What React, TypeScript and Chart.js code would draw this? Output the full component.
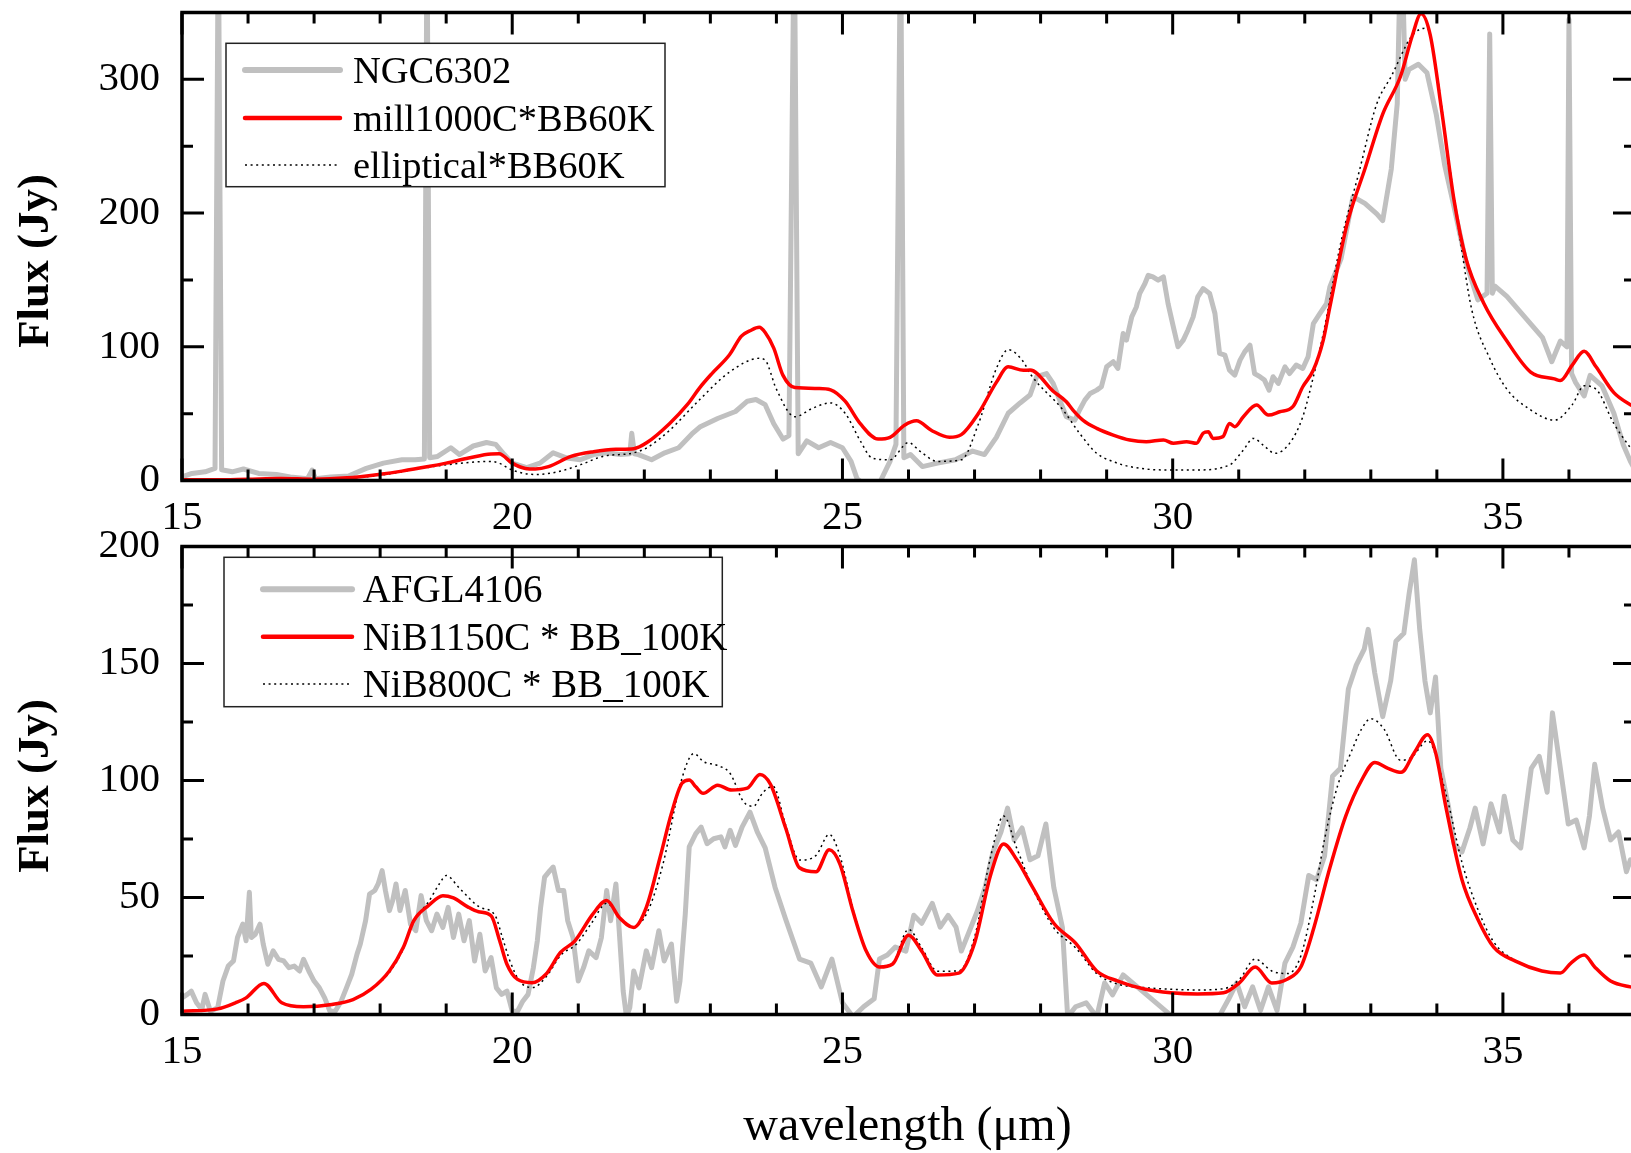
import React, { useEffect, useRef } from 'react';
import { Chart, registerables } from 'chart.js';

Chart.register(...registerables);

const SERIF = '"Liberation Serif", "Times New Roman", Times, serif';

// ---------- tick labels ----------
const X_TICK_LABELS = [15, 20, 25, 30, 35];
const TOP_Y_TICK_LABELS = [0, 100, 200, 300];
const BOTTOM_Y_TICK_LABELS = [0, 50, 100, 150, 200];

// ---------- top panel data: [wavelength (um), flux (Jy)] ----------
const NGC6302: [number, number][] = [
  [15.0, 2.7], [15.15, 5.3], [15.35, 6.5], [15.5, 9], [15.55, 420], [15.6, 8], [15.76, 6.5], [15.93, 8.6],
  [16.16, 5.3], [16.43, 4.5], [16.64, 2.7], [16.9, 1.4], [16.97, 7.8], [17.02, 1.4], [17.25, 2.7], [17.52, 3.4],
  [17.79, 9.1], [18.05, 13], [18.33, 15.5], [18.53, 15.5], [18.67, 16], [18.71, 420], [18.75, 17], [18.87, 18],
  [19.07, 24.5], [19.2, 19.4], [19.41, 25.8], [19.61, 28.4], [19.75, 27], [19.88, 19.4], [20.0, 13], [20.22, 9.6],
  [20.42, 13], [20.62, 20.7], [20.83, 16.8], [21.03, 15.5], [21.23, 19.4], [21.43, 20.7], [21.64, 19.4], [21.78, 20],
  [21.81, 35.3], [21.85, 20], [21.91, 19.4], [22.11, 15.5], [22.31, 20.7], [22.52, 24.5], [22.72, 34.8], [22.84, 40],
  [23.11, 46.4], [23.38, 51.6], [23.56, 59.3], [23.69, 60.6], [23.83, 56.7], [23.96, 42.5], [24.1, 31], [24.19, 33.6],
  [24.27, 420], [24.33, 20], [24.46, 29.7], [24.64, 24.5], [24.82, 28.4], [25.0, 24.5], [25.13, 14.3], [25.22, 1.4],
  [25.36, -4], [25.54, -4], [25.72, 14.3], [25.81, 27], [25.88, 420], [25.93, 17], [26.03, 19.4], [26.21, 10.4],
  [26.44, 13], [26.71, 15.5], [26.97, 22], [27.15, 19.4], [27.33, 32.3], [27.51, 50.3], [27.69, 58], [27.84, 63.9],
  [27.94, 77.6], [28.09, 80], [28.19, 72.6], [28.29, 60.1], [28.39, 47.7], [28.52, 45.2], [28.59, 52.7], [28.67, 60.1],
  [28.75, 65.1], [28.85, 67.6], [28.92, 70.1], [29.0, 85], [29.1, 88.8], [29.17, 83.8], [29.25, 109.9], [29.3, 105],
  [29.38, 122.4], [29.45, 129.8], [29.5, 139.8], [29.58, 147.3], [29.63, 153.5], [29.7, 152.3], [29.78, 149.8],
  [29.86, 152.3], [29.93, 132.3], [30.01, 114.9], [30.08, 100], [30.16, 105], [30.23, 112.4], [30.31, 122.4],
  [30.38, 137.3], [30.46, 143.5], [30.56, 139.8], [30.64, 124.9], [30.71, 95], [30.79, 93.8], [30.86, 82.5],
  [30.94, 78.8], [31.02, 90], [31.09, 96.2], [31.17, 101.2], [31.24, 80], [31.32, 77.6], [31.39, 75.1], [31.46, 67.6],
  [31.52, 77.6], [31.6, 72.6], [31.7, 85], [31.77, 80], [31.87, 86.3], [31.97, 83.8], [32.05, 92.5], [32.13, 117.4],
  [32.23, 124.9], [32.33, 132.3], [32.38, 144.8], [32.55, 166], [32.73, 212.3], [32.91, 207.2], [33.09, 199.4],
  [33.18, 194.3], [33.31, 232.9], [33.4, 281.7], [33.46, 420], [33.52, 300], [33.58, 307.5], [33.72, 311.3],
  [33.85, 304.9], [33.99, 274], [34.12, 235.4], [34.26, 204.6], [34.44, 163.4], [34.62, 135.1], [34.76, 140], [34.8, 334],
  [34.84, 140], [34.88, 145.4], [35.06, 137.7], [35.24, 127.4], [35.42, 117.1], [35.6, 106.9], [35.74, 88.8], [35.87, 104.3],
  [35.97, 100], [36.0, 345], [36.04, 80], [36.1, 73.4], [36.23, 63.2], [36.32, 78.6], [36.5, 70.8], [36.68, 50.3],
  [36.82, 27], [36.93, 14.3], [37.0, 8],
];

const MILL1000C_BB60K: [number, number][] = [
  [15.0, 0.5], [15.5, 0.5], [16.0, 1], [16.5, 1.5], [17.0, 1], [17.5, 2], [18.0, 4.7], [18.33, 7], [18.73, 10.4],
  [19.0, 13], [19.34, 16.8], [19.68, 19.9], [19.8, 20], [20.0, 13], [20.2, 9], [20.35, 8.6], [20.55, 10.4], [20.89, 18],
  [21.23, 21.5], [21.57, 23.3], [21.84, 23.8], [22.04, 28.4], [22.38, 42.5], [22.65, 56.7], [22.84, 69.5], [23.02, 79.8],
  [23.29, 94], [23.47, 108], [23.6, 112], [23.74, 114.6], [23.83, 110.7], [23.96, 99], [24.1, 78.6], [24.28, 69.5],
  [24.64, 68.8], [24.82, 67.8], [25.04, 59.3], [25.27, 42.5], [25.54, 31], [25.72, 32.3], [25.94, 41.3], [26.12, 44.6],
  [26.35, 37.4], [26.62, 32.3], [26.8, 34.3], [27.06, 50.3], [27.33, 73.4], [27.51, 85], [27.74, 82.4], [27.84, 82.6],
  [28.2, 66.4], [28.39, 58.9], [28.49, 52.7], [28.64, 45.2], [28.85, 39], [29.1, 34], [29.35, 30.3], [29.6, 29],
  [29.86, 30.3], [30.01, 27.8], [30.21, 29], [30.36, 27.8], [30.46, 35.3], [30.54, 36.5], [30.61, 31.5], [30.76, 32.8],
  [30.86, 42.7], [30.94, 40.2], [31.07, 47.7], [31.27, 56.4], [31.45, 48.9], [31.62, 51.4], [31.82, 55.2], [31.97, 70.1],
  [32.13, 82.6], [32.28, 105], [32.38, 129.8], [32.64, 191.7], [32.91, 232.9], [33.18, 274], [33.45, 302.3], [33.63, 333],
  [33.76, 349], [33.9, 333], [34.08, 274], [34.26, 209.7], [34.44, 166], [34.71, 132.6], [35.06, 104.3], [35.42, 81.1],
  [35.78, 76], [35.87, 74.7], [36.05, 86.3], [36.23, 96.6], [36.41, 85], [36.68, 65.7], [36.93, 56.7], [37.0, 55],
];

const ELLIPTICAL_BB60K: [number, number][] = [
  [15.0, 0], [16.0, 0], [17.0, 0.5], [17.5, 1.5], [18.0, 4], [19.0, 11.7], [19.68, 14.3], [19.8, 13], [20.0, 7.8],
  [20.35, 4.5], [20.69, 6.5], [21.03, 11.7], [21.37, 18], [21.84, 20.7], [22.04, 24.5], [22.38, 37.4], [22.84, 60.6],
  [23.29, 81.1], [23.74, 91.4], [23.83, 90], [24.0, 68.3], [24.28, 47.7], [24.55, 54.1], [24.82, 58], [25.04, 50.3],
  [25.27, 29.7], [25.45, 16.8], [25.72, 15.5], [26.0, 28.4], [26.17, 22], [26.44, 14.3], [26.8, 15.5], [27.06, 42.5],
  [27.33, 83.7], [27.51, 97.8], [27.74, 88.8], [27.84, 80], [28.34, 52.7], [28.59, 35.3], [28.85, 20.3], [29.1, 14.1],
  [29.35, 10.4], [29.86, 7.9], [30.36, 7.9], [30.86, 11.6], [31.07, 22.8], [31.22, 31.5], [31.37, 26.5], [31.55, 20.3],
  [31.77, 27.8], [31.97, 47.7], [32.13, 77.6], [32.28, 109.9], [32.55, 178.9], [32.82, 230.3], [33.09, 281.7],
  [33.31, 302.3], [33.63, 333], [33.85, 338.3], [33.99, 307.5], [34.17, 243.2], [34.35, 181.4], [34.53, 127.4],
  [34.8, 91.4], [35.06, 68.3], [35.42, 52.8], [35.78, 45.1], [36.05, 56.7], [36.23, 70.8], [36.41, 68.3], [36.68, 42.5],
  [36.93, 24.5], [37.0, 20],
];

// ---------- bottom panel data ----------
const AFGL4106: [number, number][] = [
  [15.0, 7.1], [15.08, 8.6], [15.14, 10], [15.22, 5], [15.3, 2.1], [15.35, 8.6], [15.43, 1.4], [15.54, 2.9],
  [15.62, 14.3], [15.7, 20.7], [15.78, 22.9], [15.84, 32.9], [15.92, 38.6], [15.97, 31.5], [16.02, 52.2], [16.05, 32.9],
  [16.11, 34.3], [16.18, 38.6], [16.23, 30.1], [16.3, 21.5], [16.38, 27.2], [16.46, 23.6], [16.54, 22.9], [16.62, 20],
  [16.7, 20.7], [16.78, 18.6], [16.84, 23.6], [16.92, 18.6], [17.0, 14.3], [17.08, 11.4], [17.16, 7.1], [17.24, 1.4],
  [17.32, 1.4], [17.41, 5.7], [17.49, 11.4], [17.57, 17.2], [17.65, 25.8], [17.7, 30.1], [17.78, 40.1], [17.84, 51.5],
  [17.92, 53], [17.97, 55.8], [18.03, 61.5], [18.08, 53], [18.14, 44.4], [18.19, 48.7], [18.24, 55.8], [18.3, 44.4],
  [18.38, 53], [18.46, 38.6], [18.54, 35.8], [18.62, 50.8], [18.7, 40.1], [18.78, 35.8], [18.86, 42.9], [18.95, 37.2],
  [19.03, 45.8], [19.11, 32.9], [19.19, 42.9], [19.27, 31.5], [19.35, 40.1], [19.43, 22.9], [19.51, 34.3], [19.59, 18.6],
  [19.68, 24.3], [19.76, 11.4], [19.84, 8.6], [19.92, 10], [20.0, 1.4], [20.08, 1.4], [20.16, 5.7], [20.24, 8.6],
  [20.32, 20], [20.38, 31.5], [20.43, 45.8], [20.49, 58.7], [20.57, 61.5], [20.62, 63], [20.7, 53], [20.78, 53],
  [20.84, 40.1], [20.92, 32.9], [21.0, 14.3], [21.08, 20], [21.16, 27.2], [21.27, 24.3], [21.35, 32.9], [21.43, 53],
  [21.49, 40.1], [21.57, 55.8], [21.62, 35.8], [21.68, 10], [21.73, -1], [21.78, 2.9], [21.84, 18.6], [21.92, 11.4],
  [22.03, 27.2], [22.11, 20], [22.22, 35.8], [22.3, 22.9], [22.41, 30.1], [22.49, 5.7], [22.54, 14.3], [22.62, 42.9],
  [22.68, 71.6], [22.78, 77.3], [22.86, 80.1], [22.95, 73], [23.05, 75.1], [23.16, 75.9], [23.22, 71.6], [23.3, 78.7],
  [23.38, 72.3], [23.48, 80.1], [23.6, 86.5], [23.71, 78], [23.83, 71.2], [23.98, 54.3], [24.14, 40.7], [24.35, 23.7],
  [24.52, 22], [24.68, 11.8], [24.84, 23.7], [25.0, 5], [25.16, -1], [25.32, 3.3], [25.48, 6.7], [25.56, 23.7],
  [25.68, 25.4], [25.8, 28.8], [25.96, 27.1], [26.08, 42.4], [26.2, 39], [26.36, 47.5], [26.48, 37.3], [26.6, 42.4],
  [26.72, 37.3], [26.8, 27.1], [26.92, 35.5], [27.04, 44], [27.16, 54.3], [27.28, 69.5], [27.4, 78], [27.5, 88.2],
  [27.6, 74.6], [27.72, 79.7], [27.84, 66.1], [27.96, 67.8], [28.08, 81.4], [28.2, 54.3], [28.33, 37.3], [28.41, -1],
  [28.53, 3.3], [28.69, 5], [28.85, -1], [28.97, 13.5], [29.09, 8.4], [29.25, 16.9], [30.0, -1], [30.7, -1],
  [30.85, 6.7], [30.97, 13.5], [31.09, 3.3], [31.21, 11.8], [31.33, 1.7], [31.45, 11.8], [31.58, 1.7], [31.7, 22],
  [31.82, 28.8], [31.94, 39], [32.06, 59.4], [32.18, 57.6], [32.3, 67.8], [32.42, 101.8], [32.54, 105.2], [32.66, 139.1],
  [32.78, 149.3], [32.9, 156.1], [32.96, 164.6], [33.06, 145.9], [33.18, 127.3], [33.3, 142.5], [33.38, 159.5],
  [33.5, 162.9], [33.58, 179.9], [33.66, 194.3], [33.74, 164.6], [33.82, 142.5], [33.9, 128.9], [33.98, 144.2],
  [34.06, 105.2], [34.18, 88.2], [34.26, 72.9], [34.38, 69.5], [34.5, 79.7], [34.58, 88.2], [34.7, 72.9], [34.82, 90],
  [34.95, 78], [35.02, 93.3], [35.15, 74.6], [35.27, 71.2], [35.43, 105.2], [35.55, 110.3], [35.67, 95], [35.75, 128.9],
  [35.87, 105.2], [35.99, 81.4], [36.11, 83.1], [36.23, 71.2], [36.31, 84.8], [36.39, 106.9], [36.51, 88.2],
  [36.63, 74.6], [36.75, 78], [36.87, 61], [36.93, 66.1], [37.0, 62],
];

const NIB1150C_BB100K: [number, number][] = [
  [15.0, 1.4], [15.54, 2.4], [15.81, 5], [15.97, 7.1], [16.24, 13.3], [16.51, 5], [16.84, 3.3], [17.27, 4.3],
  [17.59, 6.4], [17.86, 10.7], [18.14, 18.6], [18.35, 28.6], [18.51, 40.1], [18.73, 46.5], [18.95, 50.8], [19.11, 49.8],
  [19.32, 46.1], [19.49, 43.9], [19.68, 42.2], [19.81, 31.5], [19.92, 21.5], [20.08, 15], [20.3, 13.6], [20.51, 17.2],
  [20.73, 26.5], [20.95, 31.5], [21.22, 42.9], [21.43, 48.7], [21.62, 41.5], [21.84, 37.2], [22.03, 45.8], [22.24, 67.3],
  [22.41, 85.9], [22.57, 98.8], [22.68, 100.2], [22.78, 97.3], [22.89, 94.5], [23.11, 98], [23.32, 95.9], [23.56, 96.7],
  [23.75, 102.6], [23.91, 98.4], [24.14, 79.7], [24.35, 62.7], [24.6, 61], [24.8, 70.4], [24.96, 64.4], [25.16, 44],
  [25.36, 27.1], [25.56, 20.3], [25.76, 21.6], [26.0, 33.9], [26.2, 27.1], [26.44, 16.9], [26.76, 17.7], [27.0, 30.5],
  [27.24, 59.3], [27.44, 72.9], [27.64, 66.1], [27.88, 54.3], [28.2, 39], [28.53, 30.5], [28.85, 18.6], [29.17, 14.3],
  [29.57, 10.9], [29.97, 9.3], [30.37, 8.8], [30.77, 9.3], [31.01, 13.5], [31.25, 20.3], [31.5, 13.5], [31.74, 15.2],
  [31.94, 20.3], [32.14, 37.3], [32.38, 62.7], [32.62, 84.8], [32.86, 100.1], [33.06, 107.7], [33.26, 105.2],
  [33.46, 103.5], [33.66, 112], [33.86, 119.6], [33.98, 112], [34.14, 88.2], [34.38, 57.6], [34.62, 40.7], [34.86, 28.8],
  [35.19, 22.8], [35.59, 18.6], [35.87, 17.7], [36.03, 22], [36.23, 25.4], [36.39, 20.3], [36.63, 14.3], [36.93, 11.8],
  [37.0, 11.5],
];

const NIB800C_BB100K: [number, number][] = [
  [15.0, 1.4], [15.54, 2.4], [15.81, 5], [15.97, 7.1], [16.24, 13.3], [16.51, 5], [16.84, 3.3], [17.27, 4.3],
  [17.59, 6.4], [17.86, 10.7], [18.14, 18], [18.35, 28], [18.51, 40], [18.73, 48], [18.9, 56], [19.0, 59.4], [19.2, 54],
  [19.5, 46], [19.74, 42.4], [19.85, 33], [19.97, 22.5], [20.12, 14], [20.31, 11.5], [20.51, 16], [20.74, 25.5],
  [20.97, 30], [21.2, 39], [21.43, 47.5], [21.63, 41.5], [21.82, 37.3], [22.05, 44], [22.28, 64], [22.55, 99],
  [22.75, 111.5], [22.9, 108], [23.1, 106.5], [23.3, 103], [23.5, 91], [23.65, 89], [23.8, 95], [23.95, 97.5],
  [24.14, 81], [24.35, 66], [24.6, 68], [24.8, 77], [24.96, 68], [25.16, 45], [25.36, 27.5], [25.56, 20.5], [25.76, 22],
  [26.0, 36.4], [26.2, 28.5], [26.44, 18.5], [26.76, 18.6], [27.0, 33], [27.24, 67], [27.44, 84.8], [27.64, 71],
  [27.88, 54], [28.2, 37], [28.53, 28.5], [28.85, 17.5], [29.17, 13], [29.57, 11.5], [29.97, 10.8], [30.37, 10.5],
  [30.77, 11], [31.01, 15], [31.25, 23.7], [31.5, 18.6], [31.74, 17.5], [31.94, 25], [32.14, 50], [32.3, 75],
  [32.5, 98], [32.7, 112], [32.86, 122], [33.0, 126.4], [33.2, 122], [33.45, 108.6], [33.62, 110], [33.86, 117],
  [34.14, 94], [34.38, 65], [34.62, 45], [34.86, 31], [35.19, 23], [35.59, 18.6], [35.87, 17.7], [36.03, 22],
  [36.23, 25.4], [36.39, 20.3], [36.63, 14.3], [36.93, 11.8], [37.0, 11.5],
];

const toPoints = (arr: [number, number][]) => arr.map(([x, y]) => ({ x, y }));

const framePlugin = {
  id: 'frame',
  afterDraw(chart: any, _args: any, opts: any) {
    const { ctx, chartArea: a } = chart;
    const sx = chart.scales.x;
    const sy = chart.scales.y;
    ctx.save();

    // legend box
    const lg = opts.legend;
    ctx.fillStyle = '#fff';
    ctx.fillRect(lg.box[0], lg.box[1], lg.box[2] - lg.box[0], lg.box[3] - lg.box[1]);
    ctx.strokeStyle = '#222';
    ctx.lineWidth = 1.5;
    ctx.setLineDash([]);
    ctx.strokeRect(lg.box[0], lg.box[1], lg.box[2] - lg.box[0], lg.box[3] - lg.box[1]);
    chart.data.datasets.forEach((ds: any, i: number) => {
      const y = lg.rows[i];
      ctx.beginPath();
      ctx.strokeStyle = ds.borderColor;
      ctx.lineWidth = ds.legendWidth;
      const dash = ds.borderDash || [];
      ctx.setLineDash(dash);
      ctx.lineCap = dash.length ? 'butt' : 'round';
      ctx.moveTo(lg.x0, y);
      ctx.lineTo(lg.x1, y);
      ctx.stroke();
      ctx.setLineDash([]);
      ctx.fillStyle = '#000';
      ctx.font = `${lg.size}px ${SERIF}`;
      ctx.textAlign = 'left';
      ctx.textBaseline = 'alphabetic';
      ctx.fillText(ds.label, lg.tx, y + lg.size * 0.33);
    });

    // inward ticks
    ctx.strokeStyle = '#000';
    ctx.lineWidth = 3;
    ctx.lineCap = 'butt';
    ctx.beginPath();
    for (const t of sx.ticks) {
      const p = sx.getPixelForValue(t.value);
      const L = X_TICK_LABELS.includes(t.value) ? 22 : 11;
      ctx.moveTo(p, a.bottom);
      ctx.lineTo(p, a.bottom - L);
      ctx.moveTo(p, a.top);
      ctx.lineTo(p, a.top + L);
    }
    for (const t of sy.ticks) {
      const p = sy.getPixelForValue(t.value);
      const L = opts.yMajor.includes(t.value) ? 22 : 11;
      ctx.moveTo(a.left, p);
      ctx.lineTo(a.left + L, p);
      ctx.moveTo(a.right, p);
      ctx.lineTo(a.right - L, p);
    }
    ctx.stroke();
    ctx.lineWidth = 3.5;
    ctx.strokeRect(a.left, a.top, a.right - a.left, a.bottom - a.top);

    // y title
    ctx.save();
    ctx.fillStyle = '#000';
    ctx.font = `bold 45px ${SERIF}`;
    ctx.translate(opts.yTitle.x, opts.yTitle.y);
    ctx.rotate(-Math.PI / 2);
    ctx.textAlign = 'center';
    ctx.textBaseline = 'alphabetic';
    ctx.fillText(opts.yTitle.text, 0, 0);
    ctx.restore();

    // x title
    if (opts.xTitle) {
      ctx.fillStyle = '#000';
      ctx.font = `48px ${SERIF}`;
      ctx.textAlign = 'center';
      ctx.textBaseline = 'alphabetic';
      ctx.fillText(opts.xTitle.text, opts.xTitle.x, opts.xTitle.y);
    }
    ctx.restore();
  },
};

function makeConfig(p: any): any {
  return {
    type: 'line',
    data: { datasets: p.datasets },
    options: {
      animation: false,
      responsive: true,
      maintainAspectRatio: false,
      events: [],
      layout: { padding: { top: p.padTop, right: 10, bottom: 0, left: 0 } },
      plugins: { legend: { display: false }, tooltip: { enabled: false }, frame: p.frame },
      scales: {
        x: {
          type: 'linear',
          min: 15,
          max: 37,
          grid: { display: false, drawTicks: false },
          border: { display: false },
          afterFit: (s: any) => {
            s.height = p.xHeight;
            s.paddingLeft = 0;
            s.paddingRight = 0;
          },
          ticks: {
            stepSize: 1,
            autoSkip: false,
            maxRotation: 0,
            minRotation: 0,
            padding: 13,
            color: '#000',
            font: { family: SERIF, size: 41 },
            callback: (v: any) => (X_TICK_LABELS.includes(v) ? String(v) : ''),
          },
        },
        y: {
          type: 'linear',
          min: 0,
          max: p.yMax,
          grid: { display: false, drawTicks: false },
          border: { display: false },
          afterFit: (s: any) => {
            s.width = 182;
            s.paddingTop = 0;
            s.paddingBottom = 0;
          },
          ticks: {
            stepSize: p.yStep,
            autoSkip: false,
            padding: 22,
            color: '#000',
            font: { family: SERIF, size: 41 },
            callback: (v: any) => (p.yLabels.includes(v) ? String(v) : ''),
          },
        },
      },
    },
    plugins: [framePlugin],
  };
}

const grayStyle = {
  borderColor: '#c0c0c0', borderWidth: 5, legendWidth: 6, pointRadius: 0,
  borderJoinStyle: 'round', borderCapStyle: 'round', order: 3, clip: 0,
};
const redStyle = {
  borderColor: '#ff0000', borderWidth: 3.5, legendWidth: 4.5, pointRadius: 0,
  cubicInterpolationMode: 'monotone', borderJoinStyle: 'round', order: 1, clip: 0,
};
const dotStyle = {
  borderColor: '#000000', borderWidth: 1.5, legendWidth: 1.5, pointRadius: 0,
  borderDash: [2, 3.6], cubicInterpolationMode: 'monotone', order: 2, clip: 0,
};

export default function App() {
  const ref1 = useRef<HTMLCanvasElement>(null);
  const ref2 = useRef<HTMLCanvasElement>(null);

  useEffect(() => {
    const c1 = new Chart(ref1.current as HTMLCanvasElement, makeConfig({
      padTop: 12.5,
      xHeight: 545 - 480.5,
      yMax: 350,
      yStep: 50,
      yLabels: TOP_Y_TICK_LABELS,
      datasets: [
        { label: 'NGC6302', data: toPoints(NGC6302), ...grayStyle },
        { label: 'mill1000C*BB60K', data: toPoints(MILL1000C_BB60K), ...redStyle },
        { label: 'elliptical*BB60K', data: toPoints(ELLIPTICAL_BB60K), ...dotStyle },
      ],
      frame: {
        yMajor: TOP_Y_TICK_LABELS,
        legend: { box: [226, 43.3, 665, 186.7], rows: [70, 118, 165], x0: 245, x1: 340, tx: 353, size: 38.5 },
        yTitle: { text: 'Flux (Jy)', x: 48, y: 261 },
      },
    }));
    const c2 = new Chart(ref2.current as HTMLCanvasElement, makeConfig({
      padTop: 16.5,
      xHeight: 623 - 484.5,
      yMax: 200,
      yStep: 25,
      yLabels: BOTTOM_Y_TICK_LABELS,
      datasets: [
        { label: 'AFGL4106', data: toPoints(AFGL4106), ...grayStyle },
        { label: 'NiB1150C * BB_100K', data: toPoints(NIB1150C_BB100K), ...redStyle },
        { label: 'NiB800C * BB_100K', data: toPoints(NIB800C_BB100K), ...dotStyle },
      ],
      frame: {
        yMajor: BOTTOM_Y_TICK_LABELS,
        legend: { box: [224, 27.3, 722.3, 176.7], rows: [59.3, 106.7, 154], x0: 263, x1: 352, tx: 362.7, size: 39 },
        yTitle: { text: 'Flux (Jy)', x: 48, y: 256 },
        xTitle: { text: 'wavelength (\u03bcm)', x: 907.5, y: 610 },
      },
    }));
    return () => {
      c1.destroy();
      c2.destroy();
    };
  }, []);

  return (
    <div style={{ position: 'fixed', left: 0, top: 0, width: 1631, height: 1153, overflow: 'hidden', background: '#fff' }}>
      <div style={{ position: 'absolute', left: 0, top: 0, width: 1645, height: 545 }}>
        <canvas ref={ref1} />
      </div>
      <div style={{ position: 'absolute', left: 0, top: 530, width: 1645, height: 623 }}>
        <canvas ref={ref2} />
      </div>
    </div>
  );
}
